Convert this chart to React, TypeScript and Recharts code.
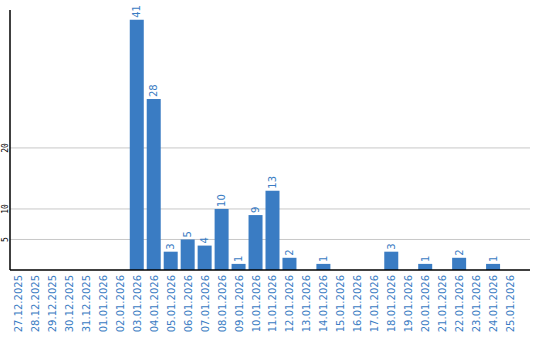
import { BarChart, Bar, XAxis, YAxis, CartesianGrid, LabelList } from 'recharts';

const dates = [
  '27.12.2025', '28.12.2025', '29.12.2025', '30.12.2025', '31.12.2025',
  '01.01.2026', '02.01.2026', '03.01.2026', '04.01.2026', '05.01.2026',
  '06.01.2026', '07.01.2026', '08.01.2026', '09.01.2026', '10.01.2026',
  '11.01.2026', '12.01.2026', '13.01.2026', '14.01.2026', '15.01.2026',
  '16.01.2026', '17.01.2026', '18.01.2026', '19.01.2026', '20.01.2026',
  '21.01.2026', '22.01.2026', '23.01.2026', '24.01.2026', '25.01.2026',
];
const counts = [0, 0, 0, 0, 0, 0, 0, 41, 28, 3, 5, 4, 10, 1, 9, 13, 2, 0, 1, 0, 0, 0, 3, 0, 1, 0, 2, 0, 1, 0];
const yTicks = [5, 10, 20];

const BLUE = '#3a7cc3';
const data = dates.map((d, i) => ({ date: d, count: counts[i] }));

const XTick = ({ x, y, payload }: any) => (
  <text transform={`translate(${x},${y - 3}) rotate(-90)`} textAnchor="end" dy="0.35em"
    fill={BLUE} fontSize={10} fontFamily="DejaVu Sans">
    {payload.value}
  </text>
);

// y labels sit left of the axis, turned on their side
const YTick = ({ y, payload }: any) => (
  <text transform={`translate(5,${y}) rotate(-90)`} textAnchor="middle" dy="0.35em"
    fill="#000" fontSize={8} fontFamily="DejaVu Sans Mono">
    {payload.value}
  </text>
);

const ValueLabel = ({ x, y, width, value }: any) => {
  if (!value) return null;
  const cx = x + width / 2;
  return (
    <text transform={`translate(${cx},${y - 2}) rotate(-90)`} textAnchor="start" dy="0.35em"
      fill={BLUE} fontSize={10} fontFamily="DejaVu Sans">
      {value}
    </text>
  );
};

export default function App() {
  return (
    <div style={{ position: 'absolute', left: 0, top: 0, background: '#fff' }}>
      <BarChart width={540} height={340} data={data}
        margin={{ top: 10, right: 10, bottom: 0, left: 0 }} barSize={14}>
        <CartesianGrid horizontal vertical={false} stroke="#c8c8c8" syncWithTicks />
        <XAxis dataKey="date" interval={0} height={70} tick={<XTick />} tickLine={false}
          axisLine={{ stroke: '#000', strokeWidth: 1.5 }} padding={{ left: 0, right: 11 }} />
        <YAxis width={10} domain={[0, 42.6]} ticks={yTicks} tick={<YTick />} tickLine={false}
          axisLine={{ stroke: '#000', strokeWidth: 1.5 }} allowDataOverflow />
        <Bar dataKey="count" fill={BLUE} isAnimationActive={false}>
          <LabelList dataKey="count" content={<ValueLabel />} />
        </Bar>
      </BarChart>
    </div>
  );
}
